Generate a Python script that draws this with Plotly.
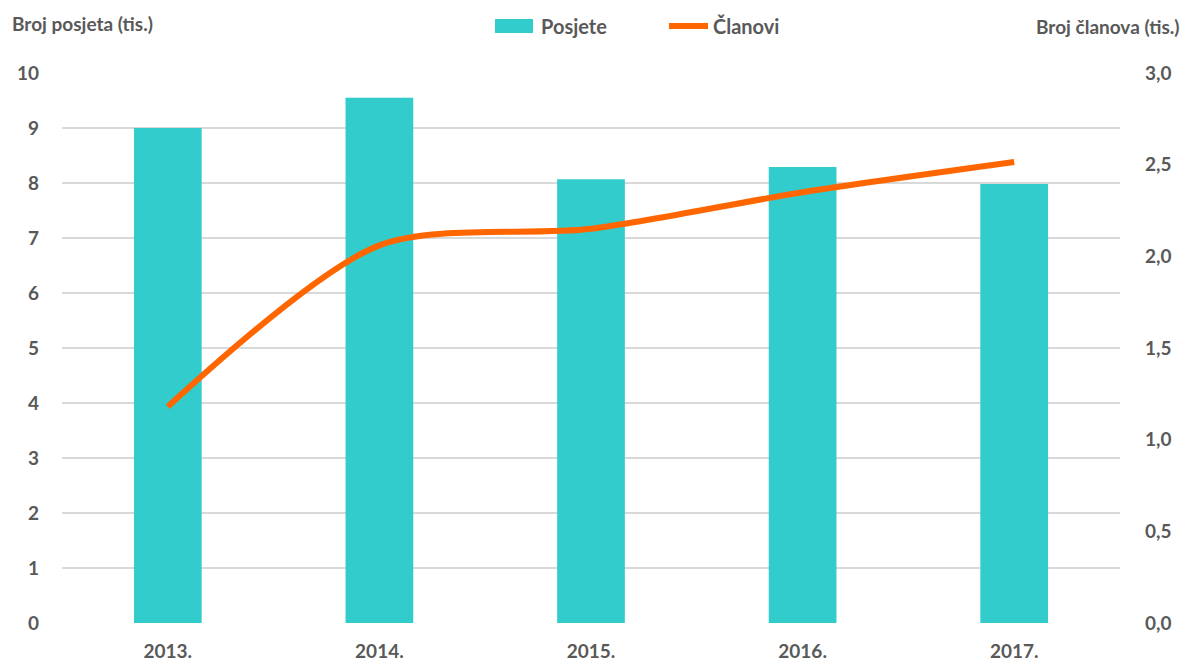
import plotly.graph_objects as go

years = ["2013.", "2014.", "2015.", "2016.", "2017."]
posjete = [9.0, 9.55, 8.07, 8.29, 7.98]      # tis.
clanovi = [1.18, 2.06, 2.15, 2.35, 2.515]     # tis.

left_ticks = list(range(0, 11))
right_ticks = [0, 0.5, 1.0, 1.5, 2.0, 2.5, 3.0]
right_labels = ["0,0", "0,5", "1,0", "1,5", "2,0", "2,5", "3,0"]

TXT = "#595959"
FONT = "Lato"
TICKFONT = dict(size=19, color=TXT, family=FONT, weight="bold")
BAR_COLOR = "#33CCCC"
LINE_COLOR = "#FF6600"

# plot area in pixels (for placing header items)
L, R, T, B = 62, 1120, 73, 623


def px(x):
    return (x - L) / (R - L)


def py(y):
    return (B - y) / (B - T)


fig = go.Figure()
fig.add_trace(go.Bar(
    x=years, y=posjete, name="Posjete",
    marker=dict(color=BAR_COLOR, line=dict(width=0)),
    width=0.32, yaxis="y",
))
fig.add_trace(go.Scatter(
    x=years, y=clanovi, name="Članovi", mode="lines",
    line=dict(color=LINE_COLOR, width=6, shape="spline", smoothing=0.8),
    yaxis="y2",
))

fig.update_layout(
    width=1187, height=665,
    margin=dict(l=L, r=1187 - R, t=T, b=665 - B, autoexpand=False),
    plot_bgcolor="white", paper_bgcolor="white",
    font=dict(family=FONT, color=TXT, size=18),
    showlegend=False,
    xaxis=dict(
        showgrid=False, showline=False, zeroline=False, automargin=False,
        tickfont=TICKFONT, ticks="", ticklabelstandoff=15,
    ),
    yaxis=dict(
        range=[0, 10], tickvals=left_ticks, automargin=False,
        showgrid=True, gridcolor="#d9d9d9", gridwidth=1.5,
        zeroline=False, showline=False, ticks="",
        tickfont=TICKFONT, ticklabelstandoff=22,
    ),
    yaxis2=dict(
        range=[0, 3], tickvals=right_ticks, ticktext=right_labels,
        overlaying="y", side="right", showgrid=False, zeroline=False,
        showline=False, ticks="", automargin=False,
        tickfont=TICKFONT, ticklabelstandoff=24,
    ),
    shapes=[
        dict(type="rect", xref="paper", yref="paper",
             x0=px(495), x1=px(533), y0=py(33), y1=py(19),
             fillcolor=BAR_COLOR, line=dict(width=0)),
        dict(type="line", xref="paper", yref="paper",
             x0=px(669), x1=px(708), y0=py(26), y1=py(26),
             line=dict(color=LINE_COLOR, width=6)),
    ],
    annotations=[
        dict(text="<b>Broj posjeta (tis.)</b>", xref="paper", yref="paper",
             x=px(10), y=py(24), xanchor="left", yanchor="middle", showarrow=False,
             font=dict(size=19, color=TXT, family=FONT)),
        dict(text="<b>Broj članova (tis.)</b>", xref="paper", yref="paper",
             x=px(1182), y=py(27), xanchor="right", yanchor="middle", showarrow=False,
             font=dict(size=19, color=TXT, family=FONT)),
        dict(text="<b>Posjete</b>", xref="paper", yref="paper",
             x=px(539), y=py(26), xanchor="left", yanchor="middle", showarrow=False,
             font=dict(size=20, color=TXT, family=FONT)),
        dict(text="<b>Članovi</b>", xref="paper", yref="paper",
             x=px(711), y=py(26), xanchor="left", yanchor="middle", showarrow=False,
             font=dict(size=20, color=TXT, family=FONT)),
    ],
)

fig.write_html("out.html")
